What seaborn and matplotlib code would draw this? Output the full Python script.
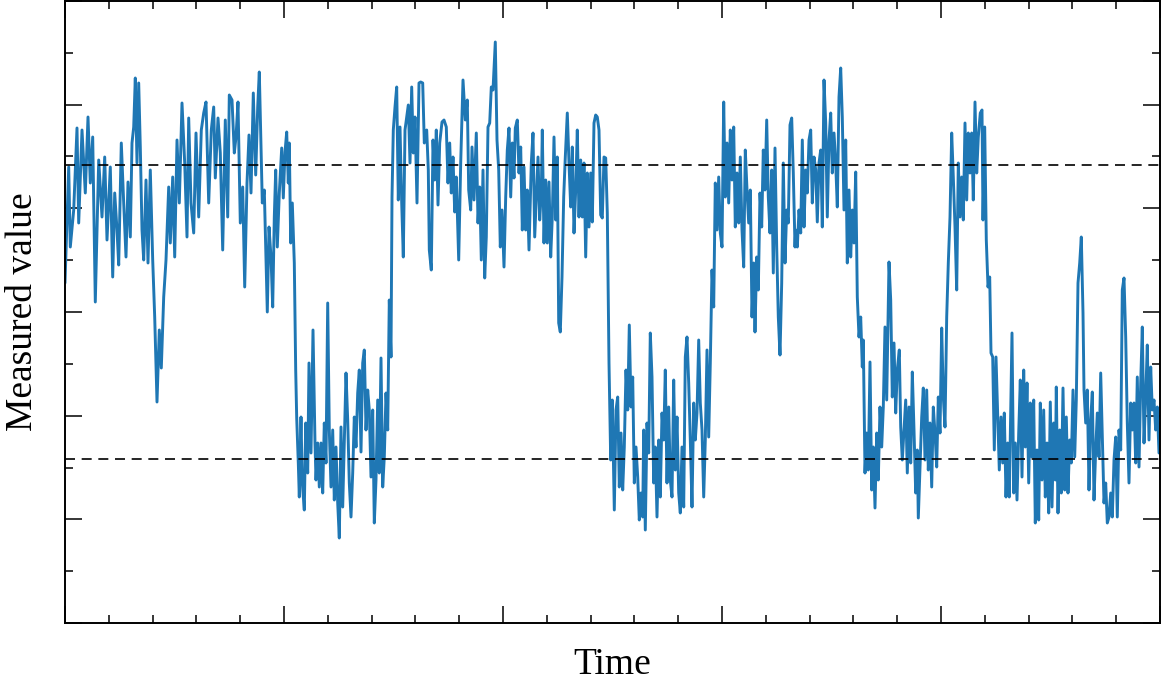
import numpy as np
import pandas as pd
import matplotlib
matplotlib.use("Agg")
import matplotlib.pyplot as plt
from matplotlib.ticker import MultipleLocator
import seaborn as sns

time_a = [0, 3.7, 5.3, 8.7, 12, 13.7, 17, 20.3, 23, 25.3,
          27.7, 30.3, 33.7, 37, 39.7, 42, 45.3, 47.7, 49.7, 52,
          53.7, 56.3, 58.7, 61, 63, 65.3, 67, 68.7, 70.3, 72,
          73.7, 75.3, 77, 78.7, 81, 83, 85.3, 87.7, 89.7, 92,
          94.3, 96.3, 98.7, 101, 103.7, 105.3, 107.7, 109.7, 112, 114.3,
          117, 119.7, 122, 123.7, 126, 128.7, 131, 133.7, 136.3, 138.7,
          141, 143.7, 146.3, 148.7, 150.3, 153, 155.3, 157.7, 160.3, 162.7,
          164.3, 167, 169.3, 171, 173, 175.3, 177.7, 179.7, 182]
value_a = [340, 456, 376, 413, 495, 400, 493, 430, 506, 440,
           486, 321, 463, 406, 466, 383, 456, 346, 430, 393,
           358, 480, 420, 366, 441, 386, 480, 496, 545, 460,
           540, 476, 393, 363, 443, 360, 453, 363, 306, 221,
           293, 255, 326, 363, 436, 380, 446, 366, 483, 420,
           520, 460, 386, 505, 420, 390, 490, 406, 493, 510,
           521, 420, 493, 516, 445, 505, 470, 373, 503, 406,
           528, 523, 470, 486, 521, 400, 436, 336, 440]

time_b = [184, 186, 188.3, 190.7, 192.7, 194.3, 196, 197.3, 199.3, 201,
          202.3, 204, 206, 207.7, 209.3, 210.7, 212.3, 214.3, 216.7, 218.3,
          220, 221.7, 223.3, 224.3, 225.7, 227.3, 229.3, 230.7, 231.7, 233.3,
          234.3, 236, 237.3, 239.3, 240.7, 242.7, 244, 246, 248, 250,
          251, 252.7, 254.3, 256, 257.7, 259.3, 261, 262.7, 264.3, 266,
          267.7, 269.3, 271, 272.7, 274.3, 276, 277.7, 279.3, 281, 282.7,
          284.3, 286, 287.7, 289.3, 291, 292.7, 294.3, 296, 297.7, 299.3,
          301, 302.7, 304.3, 306, 307.7, 309.3, 311, 312.7, 314.3, 316,
          317.7, 319.3, 321, 322.7, 324.3, 326, 327, 328.3, 330, 331.7,
          333.3, 335, 336.7, 338.3, 340, 341.7, 343.3, 345, 346.7, 348.3,
          350, 352, 354, 355.7, 357.7, 359.3, 361.7, 363.3, 364.3]
value_b = [488, 430, 530, 448, 516, 551, 476, 420, 433, 366,
           311, 396, 366, 316, 406, 453, 376, 430, 475, 425,
           471, 491, 440, 480, 380, 420, 360, 253, 205, 160,
           126, 206, 140, 113, 200, 150, 260, 170, 293, 180,
           143, 180, 136, 180, 130, 200, 160, 320, 193, 136,
           193, 123, 176, 120, 85, 196, 116, 183, 250, 203,
           140, 106, 150, 206, 176, 230, 253, 171, 260, 273,
           193, 233, 213, 146, 213, 100, 143, 223, 150, 265,
           136, 166, 230, 193, 323, 266, 426, 493, 516, 536,
           423, 496, 420, 366, 493, 506, 518, 460, 536, 470,
           506, 420, 540, 541, 540, 480, 493, 453, 373]

time_c = [366.3, 368, 369.7, 371.3, 373, 374.7, 377, 379, 381.3, 383,
          384.7, 386.3, 388, 389.7, 391.3, 393.7, 395.7, 398, 400.3, 402.3,
          403.7, 405.7, 407, 409, 411.3, 413, 414.7, 416.3, 418, 419.7,
          421.3, 423, 424.7, 426.3, 428, 430.3, 432, 433.7, 435.3, 437,
          439, 440.7, 442.3, 444, 445.7, 447.3, 449, 450.3, 452.3, 454,
          455.7, 457.3, 459, 460.7, 462.3, 464, 466.3, 468, 469.7, 471.3,
          473, 474.7, 476.3, 477.3, 479, 480.7, 482.3, 484, 485.7, 487.3,
          489, 490.7, 492.3, 493.7, 495.3, 497, 498.7, 500.3, 502.3, 504,
          505.7, 507.3, 509, 510.7, 512.3, 514, 515.7, 517.3, 519, 520.7,
          522.3, 524, 525.7, 527.3, 529, 530.7, 532.3, 534, 535.7, 537.3,
          539, 540.7, 542.3, 544, 545.7, 547.3]
value_c = [353, 483, 443, 493, 418, 480, 501, 503, 496, 440,
           480, 430, 466, 411, 446, 363, 460, 543, 503, 523,
           433, 413, 476, 423, 490, 400, 436, 363, 453, 345,
           386, 496, 500, 536, 533, 581, 483, 453, 376, 413,
           356, 426, 473, 495, 426, 480, 445, 495, 503, 450,
           476, 393, 456, 393, 433, 373, 460, 490, 386, 426,
           466, 403, 430, 493, 380, 443, 380, 441, 366, 406,
           486, 403, 466, 300, 291, 346, 426, 466, 510, 460,
           416, 476, 390, 433, 493, 406, 463, 406, 460, 366,
           450, 396, 450, 401, 500, 508, 506, 493, 408, 405,
           466, 465, 410, 260, 163, 223]

time_d = [549.3, 551, 552.7, 554.3, 556, 557.7, 559.3, 561, 562.7, 564.3,
          566, 567.7, 569.3, 571, 572.7, 574.3, 576, 577.7, 578.7, 580.3,
          582, 583.7, 585.3, 587, 588.7, 590.3, 592, 593.7, 595.3, 597,
          598.7, 600.3, 602, 603.7, 605.3, 607, 608.7, 610.3, 612, 613.7,
          615.3, 617, 618.7, 620.3, 622, 623.7, 625.3, 627, 628.7, 630.3,
          632, 633.7, 635.3, 637, 638.7, 640.3, 642, 643.7, 645.3, 647,
          648.7, 650.3, 652, 653.7, 655.3, 657, 658.7, 660.3, 662, 663.7,
          665.3, 667, 668.7, 670.3, 672, 673.7, 675.3, 677, 678.7, 680.3,
          682, 683.7, 685.3, 687, 688.7, 690, 691.7, 693.3, 695, 696.7,
          698.3, 700, 701.7, 703.3, 705, 706.7, 708.3, 710, 711.7, 713.3,
          715, 716.7, 718.3, 720, 721.7, 723.3, 725, 726.7, 728.3, 730]
value_d = [113, 213, 226, 136, 190, 133, 176, 253, 213, 298,
           216, 246, 140, 176, 146, 103, 130, 106, 193, 93,
           200, 170, 290, 246, 140, 176, 106, 183, 126, 210,
           183, 253, 140, 216, 143, 126, 243, 153, 206, 130,
           110, 176, 116, 266, 286, 240, 183, 116, 220, 183,
           210, 283, 220, 193, 126, 183, 273, 186, 260, 353,
           316, 440, 393, 446, 390, 376, 521, 426, 480, 420,
           493, 443, 496, 396, 450, 400, 466, 393, 356, 473,
           433, 400, 433, 306, 360, 291, 366, 333, 430, 396,
           473, 433, 503, 426, 390, 453, 350, 475, 376, 306,
           268, 340, 460, 360, 413, 400, 498, 505, 450, 376]

time_e = [730.7, 732.3, 734, 735.7, 737.3, 739, 740.7, 742.3, 744, 745.7,
          747.3, 749, 750.7, 752.3, 754, 755.7, 757.3, 759, 760.7, 762.3,
          764, 765.7, 767.3, 769, 770.7, 772.3, 774, 775.7, 777.3, 779,
          780.7, 782.3, 784, 785.7, 787.3, 789, 790.7, 792.3, 794, 795.7,
          797.3, 798.3, 800, 801.7, 803.3, 805, 806.7, 808.3, 810, 811.7,
          813.3, 815, 816.7, 818.3, 820, 821.7, 824, 825.7, 827.3, 829,
          830.7, 832.3, 834.3, 835.7, 837.3, 839, 840.7, 842.3, 844, 845.7,
          847.3, 849, 850.7, 852.3, 853.3, 855, 856.7, 858.3, 860, 861.7,
          863.3, 865, 866.7, 868.3, 870, 871.7, 873.3, 875, 876.7, 878.3,
          880, 881.7, 883.3, 885, 886.7, 888.3, 890, 891.7, 893.3, 895,
          896.7, 898.3, 900, 901.7, 903.3, 905, 906.7, 908.3, 910, 911.7,
          913.3]
value_e = [393, 376, 413, 390, 483, 396, 453, 430, 483, 493,
           420, 466, 453, 401, 460, 473, 396, 543, 500, 406,
           483, 510, 450, 490, 460, 416, 526, 555, 506, 413,
           483, 360, 433, 366, 413, 380, 451, 326, 286, 306,
           256, 283, 150, 190, 153, 261, 133, 176, 115, 190,
           143, 216, 176, 216, 296, 223, 361, 323, 226, 280,
           210, 253, 273, 196, 163, 193, 223, 150, 216, 160,
           251, 193, 130, 173, 105, 156, 206, 235, 163, 233,
           153, 200, 136, 216, 190, 156, 226, 190, 295, 226,
           196, 306, 360, 406, 490, 446, 396, 333, 460, 406,
           446, 403, 500, 423, 490, 450, 490, 423, 521, 450,
           486]

time_f = [915.3, 917, 918, 919.7, 921.3, 923, 924.7, 926, 927.7, 929.3,
          931, 932.7, 934.3, 936, 937.7, 939.3, 941, 942.7, 944.3, 946,
          947, 948.7, 950.3, 952, 953.7, 955.3, 957, 958.7, 960.3, 962,
          963.7, 965.3, 967, 968.7, 970.3, 972, 973.7, 975.3, 977, 978.7,
          980.3, 982, 983.7, 985.3, 987, 988.7, 990.3, 991.3, 993, 994.7,
          996.3, 998, 999.7, 1001.3, 1003, 1004.7, 1006.3, 1008, 1009.7, 1011.3,
          1013, 1014.7, 1016.3, 1018, 1019, 1020.7, 1022.3, 1024, 1025.7, 1027.3,
          1029, 1030.7, 1032.3, 1034, 1035.7, 1037.3, 1039, 1040.7, 1042.3, 1044,
          1045.7, 1047.3, 1049, 1050.7, 1052.3, 1054, 1055.7, 1057.3, 1059, 1060.7,
          1062.3, 1064, 1065.7, 1067.3, 1069, 1070.7, 1072.3, 1074, 1075.7, 1077.3,
          1079, 1080.7, 1082.3, 1084, 1085.7, 1087.3, 1089, 1090.7, 1092.3, 1094]
value_f = [510, 513, 403, 496, 383, 336, 346, 270, 266, 173,
           266, 206, 153, 206, 160, 210, 126, 180, 126, 226,
           290, 130, 180, 123, 190, 243, 146, 253, 176, 240,
           140, 220, 166, 223, 100, 173, 103, 220, 143, 213,
           126, 180, 110, 221, 116, 200, 143, 236, 110, 193,
           130, 235, 133, 206, 130, 183, 160, 233, 166, 223,
           340, 360, 386, 310, 233, 200, 233, 133, 203, 231,
           123, 173, 210, 166, 250, 186, 120, 140, 100, 106,
           130, 106, 163, 186, 106, 193, 173, 333, 345, 286,
           200, 140, 220, 193, 220, 160, 246, 156, 240, 296,
           180, 226, 278, 183, 256, 213, 223, 193, 216, 170]

thresholds = [458, 164]  # the two dashed reference levels

time = time_a + time_b + time_c + time_d + time_e + time_f
value = value_a + value_b + value_c + value_d + value_e + value_f
df = pd.DataFrame({"Time": time, "Value": value})

sns.set_style("ticks")
plt.rcParams["font.family"] = ["Liberation Serif", "DejaVu Serif"]

fig = plt.figure(figsize=(11.75, 6.83), dpi=100)
ax = fig.add_axes([65/1175, 60/683, 1095/1175, 622/683])

sns.lineplot(data=df, x="Time", y="Value", ax=ax, color="#1f77b4",
             linewidth=2.1, estimator=None, sort=False)
for lvl in thresholds:
    ax.axhline(lvl, color="black", linewidth=1.2, dashes=(6, 4), zorder=3)

ax.set_xlim(0, 1095)
ax.set_ylim(0, 622)
ax.xaxis.set_major_locator(MultipleLocator(219))
ax.xaxis.set_minor_locator(MultipleLocator(43.8))
ax.yaxis.set_major_locator(MultipleLocator(622/6))
ax.yaxis.set_minor_locator(MultipleLocator(622/12))
ax.tick_params(which="both", direction="in", top=True, right=True,
               labelbottom=False, labelleft=False, color="black")
ax.tick_params(which="major", length=12, width=1.1)
ax.tick_params(which="minor", length=6, width=1.1)
for sp in ax.spines.values():
    sp.set_linewidth(1.4)
    sp.set_color("black")

ax.set_xlabel("Time", fontsize=27, labelpad=18, color="black")
ax.set_ylabel("Measured value", fontsize=27, labelpad=18, color="black")

fig.savefig("out.png", dpi=100)
